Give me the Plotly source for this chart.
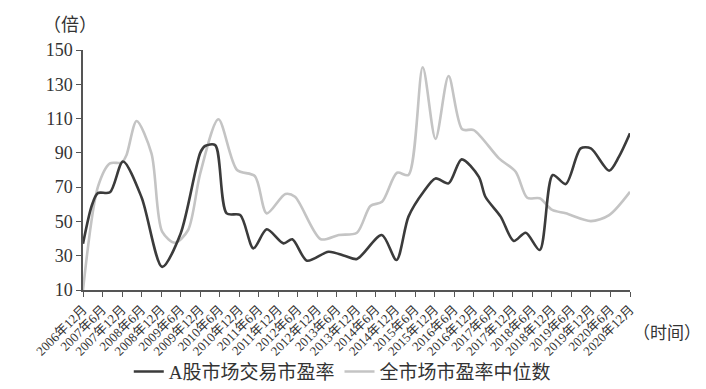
import plotly.graph_objects as go

# ---- data ----
a_dates = ["2006-12-01", "2007-02-20", "2007-04-18", "2007-08-10", "2007-12-10", "2008-06-01",
           "2008-12-10", "2009-06-01", "2009-12-01", "2010-01-15", "2010-04-20", "2010-08-05",
           "2010-12-10", "2011-04-12", "2011-08-15", "2012-01-18", "2012-04-10", "2012-08-25",
           "2013-03-15", "2013-08-18", "2013-12-05", "2014-07-25", "2014-12-10", "2015-04-01",
           "2015-08-20", "2015-12-10", "2016-04-10", "2016-08-10", "2017-01-18", "2017-03-20",
           "2017-08-10", "2017-12-10", "2018-04-01", "2018-08-10", "2018-12-10", "2019-04-10",
           "2019-08-28", "2019-12-01", "2020-05-20", "2020-08-20", "2020-12-01"]
a_values = [37, 59, 66.5, 67, 85, 64,
            23.5, 43, 90, 94, 94.5, 54.7,
            53.7, 34.3, 45.4, 37.2, 39.6, 27.1,
            32.3, 29.8, 28.1, 42.1, 27.5, 52.8,
            67.3, 75.1, 72.2, 86.2, 76, 64.4,
            52.8, 38.6, 43.4, 33.3, 77.1, 71.8,
            92.6, 92.6, 79.6, 87.8, 101.4]

b_dates = ["2006-12-01", "2007-04-20", "2007-08-10", "2007-11-28", "2008-01-12", "2008-04-15",
           "2008-09-01", "2008-12-10", "2009-04-10", "2009-08-10", "2009-12-01", "2010-05-20",
           "2010-11-10", "2011-04-25", "2011-08-15", "2012-02-05", "2012-05-05", "2013-01-01",
           "2013-06-18", "2013-12-05", "2014-04-10", "2014-07-28", "2014-12-15", "2015-04-01",
           "2015-08-12", "2015-12-10", "2016-04-10", "2016-08-15", "2016-12-01", "2017-07-25",
           "2017-12-28", "2018-04-15", "2018-08-10", "2018-12-05", "2019-04-10", "2019-12-01",
           "2020-05-20", "2020-12-01"]
b_values = [10, 70.3, 83.9, 84.3, 88.8, 108.6,
            89.7, 44, 37.6, 45, 78, 109.6,
            80, 76.5, 54.7, 66, 64.4, 39.6,
            42.1, 43.4, 59, 61.5, 78.4, 77.1,
            139.9, 98.1, 134.8, 103.7, 103.3, 86.8,
            79, 63.8, 63.5, 56.7, 54.7, 50.2,
            53.7, 67.3]

tick_dates = ["2006-12-01", "2007-06-01", "2007-12-01", "2008-06-01", "2008-12-01", "2009-06-01",
              "2009-12-01", "2010-06-01", "2010-12-01", "2011-06-01", "2011-12-01", "2012-06-01",
              "2012-12-01", "2013-06-01", "2013-12-01", "2014-06-01", "2014-12-01", "2015-06-01",
              "2015-12-01", "2016-06-01", "2016-12-01", "2017-06-01", "2017-12-01", "2018-06-01",
              "2018-12-01", "2019-06-01", "2019-12-01", "2020-06-01", "2020-12-01"]
tick_labels = ["2006年12月", "2007年6月", "2007年12月", "2008年6月", "2008年12月", "2009年6月",
               "2009年12月", "2010年6月", "2010年12月", "2011年6月", "2011年12月", "2012年6月",
               "2012年12月", "2013年6月", "2013年12月", "2014年6月", "2014年12月", "2015年6月",
               "2015年12月", "2016年6月", "2016年12月", "2017年6月", "2017年12月", "2018年6月",
               "2018年12月", "2019年6月", "2019年12月", "2020年6月", "2020年12月"]
y_ticks = [10, 30, 50, 70, 90, 110, 130, 150]

series_names = ["A股市场交易市盈率", "全市场市盈率中位数"]

FONT = "Liberation Serif, 'Noto Sans CJK SC', serif"
AXIS_COLOR = "#555555"
TXT = "#333333"

fig = go.Figure()
fig.add_trace(go.Scatter(x=b_dates, y=b_values, mode="lines", name=series_names[1],
                         line=dict(color="#c4c4c4", width=2.6, shape="spline", smoothing=0.8)))
fig.add_trace(go.Scatter(x=a_dates, y=a_values, mode="lines", name=series_names[0],
                         line=dict(color="#3b3b3b", width=2.6, shape="spline", smoothing=0.8)))

fig.update_layout(
    width=706, height=389,
    margin=dict(l=83, r=76, t=50, b=99, autoexpand=False),
    plot_bgcolor="white", paper_bgcolor="white",
    font=dict(family=FONT, color=TXT),
    showlegend=True,
    legend=dict(orientation="h", x=0.474, xanchor="center", y=-0.34, yanchor="middle",
                traceorder="reversed", font=dict(size=19, family=FONT, color=TXT),
                itemwidth=30, bgcolor="rgba(0,0,0,0)"),
    xaxis=dict(type="date", range=[tick_dates[0], tick_dates[-1]], automargin=False,
               tickmode="array", tickvals=tick_dates, ticktext=tick_labels,
               tickangle=-45, tickfont=dict(size=13, family=FONT, color=TXT),
               showline=True, linecolor=AXIS_COLOR, linewidth=1.5,
               ticks="outside", ticklen=5, tickcolor=AXIS_COLOR, tickwidth=1.2,
               showgrid=False, zeroline=False),
    yaxis=dict(range=[10, 150], tickmode="array", tickvals=y_ticks, automargin=False,
               tickfont=dict(size=18, family=FONT, color=TXT),
               showline=True, linecolor=AXIS_COLOR, linewidth=1.5,
               ticks="outside", ticklen=5, tickcolor=AXIS_COLOR, tickwidth=1.2,
               showgrid=False, zeroline=False),
    annotations=[
        dict(text="（倍）", xref="paper", yref="paper", x=-0.077, y=1.105,
             xanchor="left", yanchor="middle", showarrow=False,
             font=dict(size=18, family=FONT, color=TXT)),
        dict(text="（时间）", xref="paper", yref="paper", x=1.067, y=-0.18,
             xanchor="center", yanchor="middle", showarrow=False,
             font=dict(size=17, family=FONT, color=TXT)),
    ],
)

fig.write_html("out.html")
